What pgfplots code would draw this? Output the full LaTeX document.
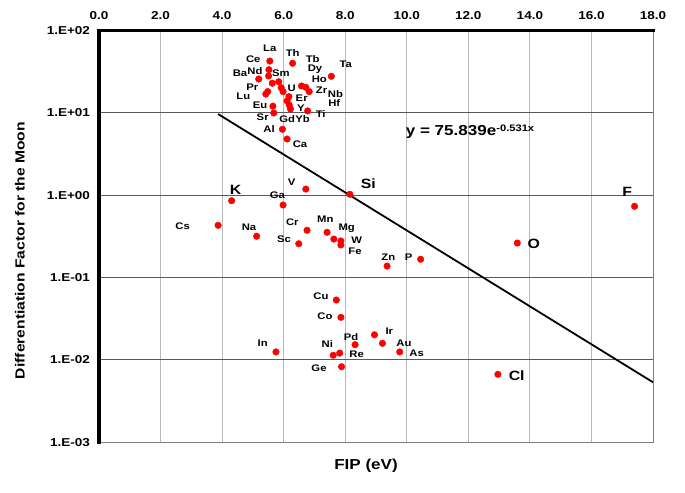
\documentclass[border=0pt]{standalone}
\usepackage{pgfplots}
\pgfplotsset{compat=1.18}
\usepackage{fontspec}
\setmainfont{Liberation Sans}[FakeStretch=1.18]
\newcommand{\lab}[4][9.6]{\node[font=\bfseries\fontsize{#1}{#1}\selectfont, inner sep=0pt, anchor=center] at ([shift={(#2bp-99bp,30.7bp-#3bp)}]ax.north west) {#4};}
\begin{document}
\begin{tikzpicture}
\begin{axis}[name=ax, scale only axis, width=554bp, height=411.5bp,
  ymode=log, xmin=0, xmax=18, ymin=1e-3, ymax=1e2,
  xtick={0,2,...,18}, xticklabels={0.0,2.0,4.0,6.0,8.0,10.0,12.0,14.0,16.0,18.0},
  ytick={1e-3,1e-2,1e-1,1,1e1,1e2},
  yticklabels={1.E-03,1.E-02,1.E-01,1.E+00,1.E+01,1.E+02},
  yminorticks=false, xminorticks=false,
  xtick pos=right, xticklabel pos=right, ytick pos=left,
  tick style={black, line width=1.5bp}, major tick length=3bp, tick align=center,
  axis line style={draw=black!50, line width=0.8bp},
  xmajorgrids, ymajorgrids,
  x grid style={draw=black!28, line width=0.8bp},
  y grid style={draw=black!65, line width=1bp},
  tick label style={font=\bfseries\fontsize{11.5}{11.5}\selectfont},
  xticklabel style={yshift=6bp},
  yticklabel style={xshift=-4bp},
]
\addplot[only marks, mark=*, mark size=3.3bp, mark options={draw=red, fill=red}] table {
x y
5.55 42.8
6.29 40.2
5.52 33.6
5.51 28.2
5.19 25.9
5.63 23.0
5.84 24.0
7.55 27.9
5.48 18.2
5.42 17.0
5.92 20.3
5.98 18.2
6.58 21.3
6.72 20.5
6.83 18.2
6.17 15.8
6.11 14.0
6.18 12.5
6.22 11.2
5.65 12.1
5.68 10.0
6.78 10.6
5.96 6.34
6.11 4.83
6.72 1.19
4.31 0.859
5.98 0.762
8.15 1.03
3.87 0.432
5.12 0.318
6.76 0.376
6.49 0.258
7.41 0.355
7.63 0.294
7.86 0.279
7.86 0.249
9.36 0.138
10.45 0.167
13.59 0.263
17.40 0.735
12.96 0.00668
7.71 0.0534
7.86 0.0329
8.95 0.0202
8.32 0.0153
9.21 0.0159
9.77 0.0125
5.75 0.0125
7.61 0.01138
7.82 0.0121
7.88 0.00827
};
\addplot[black, line width=1.8bp] coordinates {(3.87,9.71) (18,0.00535)};
\end{axis}
\draw[line width=3bp, black, line cap=rect] (ax.south west) -- (ax.north west) -- (ax.north east);
% labels
\lab{269.7}{48.7}{La}
\lab{292.7}{53.3}{Th}
\lab{253.3}{59.3}{Ce}
\lab{312.7}{59.3}{Tb}
\lab{345.7}{64.3}{Ta}
\lab{315}{69.3}{Dy}
\lab{255}{71}{Nd}
\lab{240}{73.3}{Ba}
\lab{281}{73.3}{Sm}
\lab{319.3}{79.3}{Ho}
\lab{252.3}{87.3}{Pr}
\lab{291.7}{88.3}{U}
\lab{321.5}{90.5}{Zr}
\lab{335.5}{94.5}{Nb}
\lab{243.3}{96.7}{Lu}
\lab{301.7}{98.3}{Er}
\lab{334.3}{103.5}{Hf}
\lab{260}{105.7}{Eu}
\lab{301}{108.3}{Y}
\lab{320.7}{114.3}{Ti}
\lab{262.7}{117.3}{Sr}
\lab{287.3}{119.3}{Gd}
\lab{302.5}{119.3}{Yb}
\lab{269}{129.3}{Al}
\lab{300}{144}{Ca}
\lab{291.7}{182.7}{V}
\lab[13.5]{235.7}{190}{K}
\lab{277.3}{195.3}{Ga}
\lab[13.5]{368.3}{184}{Si}
\lab{182.7}{226.7}{Cs}
\lab{249}{227.7}{Na}
\lab{292.3}{222.7}{Cr}
\lab{284}{239.3}{Sc}
\lab{325.3}{219}{Mn}
\lab{346.7}{228.3}{Mg}
\lab{356.7}{240}{W}
\lab{355}{251}{Fe}
\lab{388.3}{257.7}{Zn}
\lab{408.7}{257.3}{P}
\lab[13.5]{533.7}{244}{O}
\lab[13.5]{627.3}{192.3}{F}
\lab{321}{296.7}{Cu}
\lab{325}{316.7}{Co}
\lab{389.3}{331}{Ir}
\lab{351}{336.7}{Pd}
\lab{404}{343.3}{Au}
\lab{416.7}{353.3}{As}
\lab{262.7}{343.3}{In}
\lab{327.3}{344}{Ni}
\lab{356.7}{354}{Re}
\lab{319}{368.7}{Ge}
\lab[13.5]{516.7}{376}{Cl}
\lab[14.5]{470}{131.7}{y = 75.839e\raisebox{0.6ex}{\fontsize{9.5}{9.5}\selectfont -0.531x}}
% axis titles
\node[font=\bfseries\fontsize{13.3}{13.3}\selectfont, rotate=90] at ([shift={(-79bp,-14bp)}]ax.west) {Differentiation Factor for the Moon};
\node[font=\bfseries\fontsize{14.5}{14.5}\selectfont] at ([shift={(-10bp,-24bp)}]ax.south) {FIP (eV)};
% bounding box
\path ([shift={(-99bp,-50.5bp)}]ax.south west) rectangle ([shift={(32bp,30.7bp)}]ax.north east);
\end{tikzpicture}
\end{document}
